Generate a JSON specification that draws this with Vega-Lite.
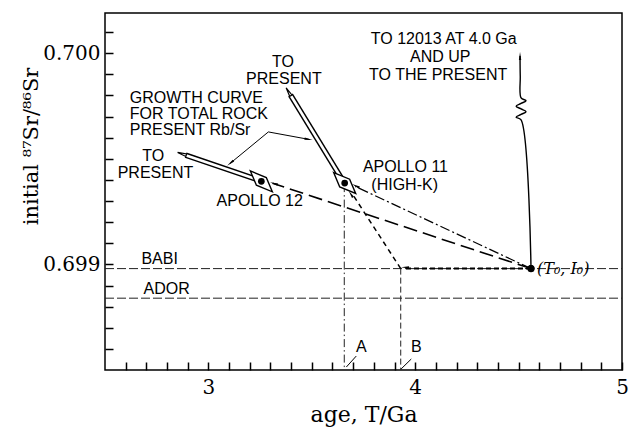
{
  "$schema": "https://vega.github.io/schema/vega-lite/v6.json",
  "width": 517,
  "height": 357,
  "autosize": {"type": "none"},
  "padding": {"left": 105, "top": 13, "right": 7, "bottom": 64},
  "background": "white",
  "config": {
    "view": {"stroke": "black", "strokeWidth": 1.5},
    "axis": {"domain": false, "grid": false,
      "labelFont": "DejaVu Serif", "labelFontSize": 20, "labelColor": "black",
      "titleFont": "DejaVu Serif", "titleFontWeight": "normal", "titleColor": "black"}
  },
  "resolve": {"axis": {"x": "independent", "y": "independent"}},
  "datasets": {
    "xticks": [{"x": 2.6}, {"x": 2.7}, {"x": 2.8}, {"x": 2.9}, {"x": 3}, {"x": 3.1}, {"x": 3.2}, {"x": 3.3}, {"x": 3.4}, {"x": 3.5}, {"x": 3.6}, {"x": 3.7}, {"x": 3.8}, {"x": 3.9}, {"x": 4}, {"x": 4.1}, {"x": 4.2}, {"x": 4.3}, {"x": 4.4}, {"x": 4.5}, {"x": 4.6}, {"x": 4.7}, {"x": 4.8}, {"x": 4.9}],
    "yticks": [{"y": 0.6986}, {"y": 0.6987}, {"y": 0.6988}, {"y": 0.6989}, {"y": 0.699}, {"y": 0.6991}, {"y": 0.6992}, {"y": 0.6993}, {"y": 0.6994}, {"y": 0.6995}, {"y": 0.6996}, {"y": 0.6997}, {"y": 0.6998}, {"y": 0.6999}, {"y": 0.7}, {"y": 0.7001}],
    "lines": [
      {"s": "BABI", "o": 1, "x": 2.5, "y": 0.69898}, {"s": "BABI", "o": 2, "x": 5, "y": 0.69898},
      {"s": "ADOR", "o": 1, "x": 2.5, "y": 0.69884}, {"s": "ADOR", "o": 2, "x": 5, "y": 0.69884},
      {"s": "t0_a12", "o": 1, "x": 4.56, "y": 0.69898}, {"s": "t0_a12", "o": 2, "x": 3.31, "y": 0.699384},
      {"s": "t0_a11", "o": 1, "x": 4.56, "y": 0.69898}, {"s": "t0_a11", "o": 2, "x": 3.71, "y": 0.699369},
      {"s": "t0_b", "o": 1, "x": 4.56, "y": 0.69898}, {"s": "t0_b", "o": 2, "x": 3.95, "y": 0.69898},
      {"s": "b_a11", "o": 1, "x": 3.93, "y": 0.69898}, {"s": "b_a11", "o": 2, "x": 3.695, "y": 0.699335},
      {"s": "vert_a", "o": 1, "x": 3.657, "y": 0.69938}, {"s": "vert_a", "o": 2, "x": 3.657, "y": 0.6985},
      {"s": "vert_b", "o": 1, "x": 3.93, "y": 0.69898}, {"s": "vert_b", "o": 2, "x": 3.93, "y": 0.6985},
      {"s": "up", "o": 1, "x": 4.56, "y": 0.69898},
      {"s": "up", "o": 2, "x": 4.512, "y": 0.699684},
      {"s": "up", "o": 3, "x": 4.488, "y": 0.699697},
      {"s": "up", "o": 4, "x": 4.512, "y": 0.69971},
      {"s": "up", "o": 5, "x": 4.536, "y": 0.699723},
      {"s": "up", "o": 6, "x": 4.512, "y": 0.699736},
      {"s": "up", "o": 7, "x": 4.488, "y": 0.699749},
      {"s": "up", "o": 8, "x": 4.512, "y": 0.699762},
      {"s": "up", "o": 9, "x": 4.536, "y": 0.699775},
      {"s": "up", "o": 10, "x": 4.512, "y": 0.699788},
      {"s": "up", "o": 11, "x": 4.508, "y": 0.69989},
      {"s": "up", "o": 12, "x": 4.507, "y": 0.699986},
      {"s": "g12", "o": 1, "x": 3.256, "y": 0.699395}, {"s": "g12", "o": 2, "x": 2.89, "y": 0.699517},
      {"s": "g11", "o": 1, "x": 3.657, "y": 0.699385}, {"s": "g11", "o": 2, "x": 3.397, "y": 0.699802},
      {"s": "ann1", "o": 1, "x": 3.29, "y": 0.699627}, {"s": "ann1", "o": 2, "x": 3.49, "y": 0.699591},
      {"s": "ann2", "o": 1, "x": 3.29, "y": 0.699627}, {"s": "ann2", "o": 2, "x": 3.105, "y": 0.699478},
      {"s": "leadA", "o": 1, "x": 3.667, "y": 0.698514}, {"s": "leadA", "o": 2, "x": 3.715, "y": 0.698566},
      {"s": "leadB", "o": 1, "x": 3.932, "y": 0.698505}, {"s": "leadB", "o": 2, "x": 3.981, "y": 0.698552}
    ],
    "arrows": [
      {"kind": "solid", "x": 3.323, "y": 0.699381, "dir": 288},
      {"kind": "solid", "x": 3.718, "y": 0.699369, "dir": 295},
      {"kind": "solid", "x": 3.692, "y": 0.699328, "dir": 327},
      {"kind": "solid", "x": 3.957, "y": 0.698986, "dir": 270},
      {"kind": "solid", "x": 4.507, "y": 0.69998, "dir": 0},
      {"kind": "solid", "x": 3.478, "y": 0.699593, "dir": 100},
      {"kind": "solid", "x": 3.111, "y": 0.699483, "dir": 230},
      {"kind": "open", "x": 2.879, "y": 0.699521, "dir": 288},
      {"kind": "open", "x": 3.391, "y": 0.699811, "dir": 329}
    ],
    "samples": [
      {"name": "Apollo 12", "x": 3.256, "y": 0.699393},
      {"name": "Apollo 11", "x": 3.659, "y": 0.699385}
    ],
    "t0": [{"name": "T0", "x": 4.56, "y": 0.69898}],
    "textc": [
      {"t": "TO 12013 AT 4.0 Ga", "x": 4.138, "y": 0.700069},
      {"t": "AND UP", "x": 4.121, "y": 0.699983},
      {"t": "TO THE PRESENT", "x": 4.111, "y": 0.699896},
      {"t": "TO", "x": 3.361, "y": 0.699959},
      {"t": "PRESENT", "x": 3.365, "y": 0.699876},
      {"t": "TO", "x": 2.733, "y": 0.699511},
      {"t": "PRESENT", "x": 2.744, "y": 0.699434},
      {"t": "APOLLO 12", "x": 3.248, "y": 0.699299},
      {"t": "APOLLO 11", "x": 3.953, "y": 0.69946},
      {"t": "(HIGH-K)", "x": 3.949, "y": 0.699377},
      {"t": "A", "x": 3.739, "y": 0.698607},
      {"t": "B", "x": 4.005, "y": 0.698607}
    ],
    "textl": [
      {"t": "GROWTH CURVE", "x": 2.62, "y": 0.699786},
      {"t": "FOR TOTAL ROCK", "x": 2.62, "y": 0.69971},
      {"t": "PRESENT Rb/Sr", "x": 2.62, "y": 0.699637},
      {"t": "BABI", "x": 2.676, "y": 0.699024},
      {"t": "ADOR", "x": 2.686, "y": 0.698882}
    ],
    "textt0": [{"t": "(T₀, I₀)", "x": 4.589, "y": 0.698976}]
  },
  "encoding": {
    "x": {"field": "x", "type": "quantitative", "scale": {"domain": [2.5, 5], "nice": false, "zero": false}, "axis": null},
    "y": {"field": "y", "type": "quantitative", "scale": {"domain": [0.6985, 0.70019], "nice": false, "zero": false}, "axis": null}
  },
  "layer": [
    {
      "data": {"name": "t0"},
      "mark": {"type": "point", "shape": "circle", "filled": true, "color": "black", "size": 50, "opacity": 1},
      "encoding": {
        "x": {"field": "x", "type": "quantitative", "scale": {"domain": [2.5, 5], "nice": false, "zero": false},
          "axis": {"orient": "bottom", "ticks": true, "tickColor": "black", "tickSize": 8, "tickWidth": 1.5, "offset": -8,
            "values": [2.6,2.7,2.8,2.9,3,3.1,3.2,3.3,3.4,3.5,3.6,3.7,3.8,3.9,4,4.1,4.2,4.3,4.4,4.5,4.6,4.7,4.8,4.9,5],
            "labelExpr": "(datum.value == 3 || datum.value == 4 || datum.value == 5) ? format(datum.value, 'd') : ''",
            "labelOverlap": false, "labelFlush": false, "labelPadding": 7,
            "title": "age, T/Ga", "titleFontSize": 22, "titleY": 59, "titleBaseline": "alphabetic"}},
        "y": {"field": "y", "type": "quantitative", "scale": {"domain": [0.6985, 0.70019], "nice": false, "zero": false},
          "axis": {"orient": "left", "ticks": true, "tickColor": "black", "tickSize": 8, "tickWidth": 1.5, "offset": -8,
            "values": [0.6986,0.6987,0.6988,0.6989,0.699,0.6991,0.6992,0.6993,0.6994,0.6995,0.6996,0.6997,0.6998,0.6999,0.7,0.7001],
            "labelExpr": "(datum.value == 0.699 || datum.value == 0.7) ? format(datum.value, '.3f') : ''",
            "labelOverlap": false, "labelFlush": false, "labelPadding": 5,
            "title": "initial ⁸⁷Sr/⁸⁶Sr", "titleFontSize": 21, "titleX": -82, "titleY": 133, "titleBaseline": "middle"}}
      }
    },
    {
      "data": {"name": "xticks"},
      "mark": {"type": "tick", "orient": "vertical", "color": "black", "size": 8, "thickness": 1.5, "yOffset": -4, "opacity": 1},
      "encoding": {"y": {"datum": 0.6985, "type": "quantitative"}}
    },
    {
      "data": {"name": "xticks"},
      "mark": {"type": "tick", "orient": "vertical", "color": "black", "size": 8, "thickness": 1.5, "yOffset": 4, "opacity": 1},
      "encoding": {"y": {"datum": 0.70019, "type": "quantitative"}}
    },
    {
      "data": {"name": "yticks"},
      "mark": {"type": "tick", "orient": "horizontal", "color": "black", "size": 8, "thickness": 1.5, "xOffset": 4, "opacity": 1},
      "encoding": {"x": {"datum": 2.5, "type": "quantitative"}}
    },
    {
      "data": {"name": "yticks"},
      "mark": {"type": "tick", "orient": "horizontal", "color": "black", "size": 8, "thickness": 1.5, "xOffset": -4, "opacity": 1},
      "encoding": {"x": {"datum": 5, "type": "quantitative"}}
    },
    {
      "data": {"name": "lines"},
      "transform": [{"filter": "datum.s == 'BABI' || datum.s == 'ADOR'"}],
      "mark": {"type": "line", "color": "#222", "strokeWidth": 1, "strokeDash": [9, 3]},
      "encoding": {"detail": {"field": "s"}, "order": {"field": "o"}}
    },
    {
      "data": {"name": "lines"},
      "transform": [{"filter": "datum.s == 'vert_a'"}],
      "mark": {"type": "line", "color": "#222", "strokeWidth": 1, "strokeDash": [8, 3, 1.5, 3]},
      "encoding": {"order": {"field": "o"}}
    },
    {
      "data": {"name": "lines"},
      "transform": [{"filter": "datum.s == 'vert_b'"}],
      "mark": {"type": "line", "color": "#222", "strokeWidth": 1, "strokeDash": [6, 3]},
      "encoding": {"order": {"field": "o"}}
    },
    {
      "data": {"name": "lines"},
      "transform": [{"filter": "datum.s == 't0_b'"}],
      "mark": {"type": "line", "color": "black", "strokeWidth": 2, "strokeDash": [5, 3]},
      "encoding": {"order": {"field": "o"}}
    },
    {
      "data": {"name": "lines"},
      "transform": [{"filter": "datum.s == 'b_a11'"}],
      "mark": {"type": "line", "color": "black", "strokeWidth": 1.5, "strokeDash": [5, 4]},
      "encoding": {"order": {"field": "o"}}
    },
    {
      "data": {"name": "lines"},
      "transform": [{"filter": "datum.s == 't0_a12'"}],
      "mark": {"type": "line", "color": "black", "strokeWidth": 1.6, "strokeDash": [14, 6]},
      "encoding": {"order": {"field": "o"}}
    },
    {
      "data": {"name": "lines"},
      "transform": [{"filter": "datum.s == 't0_a11'"}],
      "mark": {"type": "line", "color": "black", "strokeWidth": 1.2, "strokeDash": [10, 3, 2, 3]},
      "encoding": {"order": {"field": "o"}}
    },
    {
      "data": {"name": "lines"},
      "transform": [{"filter": "datum.s == 'up'"}],
      "mark": {"type": "line", "color": "black", "strokeWidth": 1.4, "interpolate": "catmull-rom"},
      "encoding": {"order": {"field": "o"}}
    },
    {
      "data": {"name": "lines"},
      "transform": [{"filter": "datum.s == 'ann1' || datum.s == 'ann2' || datum.s == 'leadA' || datum.s == 'leadB'"}],
      "mark": {"type": "line", "color": "black", "strokeWidth": 1},
      "encoding": {"detail": {"field": "s"}, "order": {"field": "o"}}
    },
    {
      "data": {"name": "lines"},
      "transform": [{"filter": "datum.s == 'g12' || datum.s == 'g11'"}],
      "mark": {"type": "line", "color": "black", "strokeWidth": 5.5, "strokeCap": "butt"},
      "encoding": {"detail": {"field": "s"}, "order": {"field": "o"}}
    },
    {
      "data": {"name": "lines"},
      "transform": [{"filter": "datum.s == 'g12' || datum.s == 'g11'"}],
      "mark": {"type": "line", "color": "white", "strokeWidth": 2.6, "strokeCap": "butt"},
      "encoding": {"detail": {"field": "s"}, "order": {"field": "o"}}
    },
    {
      "data": {"name": "arrows"},
      "transform": [{"filter": "datum.kind == 'open'"}],
      "mark": {"type": "point", "shape": "wedge", "filled": true, "fill": "white", "stroke": "black", "strokeWidth": 1.2, "size": 110, "opacity": 1},
      "encoding": {"angle": {"field": "dir", "type": "quantitative", "scale": null}}
    },
    {
      "data": {"name": "samples"},
      "mark": {"type": "point", "shape": "M-1,-0.95L0.45,-0.35L1,0.95L-0.45,0.35Z", "filled": true, "fill": "white", "stroke": "black", "strokeWidth": 1.4, "size": 484, "opacity": 1}
    },
    {
      "data": {"name": "samples"},
      "mark": {"type": "point", "shape": "circle", "filled": true, "color": "black", "size": 45, "opacity": 1}
    },
    {
      "data": {"name": "t0"},
      "mark": {"type": "point", "shape": "circle", "filled": true, "color": "black", "size": 50, "opacity": 1}
    },
    {
      "data": {"name": "arrows"},
      "transform": [{"filter": "datum.kind == 'solid'"}],
      "mark": {"type": "point", "shape": "wedge", "filled": true, "color": "black", "size": 90, "opacity": 1},
      "encoding": {"angle": {"field": "dir", "type": "quantitative", "scale": null}}
    },
    {
      "data": {"name": "textc"},
      "mark": {"type": "text", "font": "Liberation Sans", "fontSize": 16, "align": "center", "baseline": "middle", "color": "black"},
      "encoding": {"text": {"field": "t"}}
    },
    {
      "data": {"name": "textl"},
      "mark": {"type": "text", "font": "Liberation Sans", "fontSize": 16, "align": "left", "baseline": "middle", "color": "black"},
      "encoding": {"text": {"field": "t"}}
    },
    {
      "data": {"name": "textt0"},
      "mark": {"type": "text", "font": "DejaVu Serif", "fontStyle": "italic", "fontSize": 16, "align": "left", "baseline": "middle", "color": "black"},
      "encoding": {"text": {"field": "t"}}
    }
  ]
}
